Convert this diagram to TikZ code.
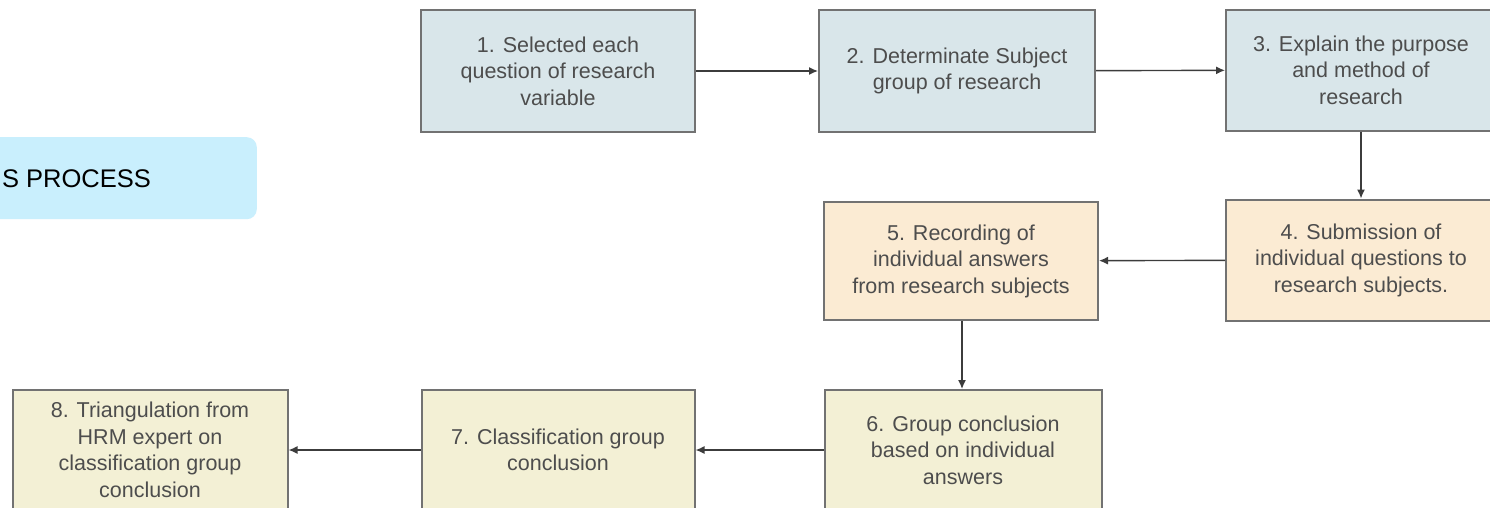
\documentclass[tikz,border=0pt]{standalone}
\usepackage{fontspec}
\setmainfont{Liberation Sans}
\usetikzlibrary{arrows.meta}
\definecolor{bluefill}{HTML}{D9E6EA}
\definecolor{orangefill}{HTML}{FBEBD3}
\definecolor{yellowfill}{HTML}{F3F0D5}
\definecolor{pillfill}{HTML}{C9EFFD}
\definecolor{boxline}{HTML}{727272}
\definecolor{boxtext}{HTML}{4D4D4D}
\definecolor{arrowline}{HTML}{3C3C3C}
\tikzset{
  stepbox/.style={draw=boxline, line width=2pt, align=center, text=boxtext,
    inner sep=0pt, font=\fontsize{21.5}{26.5}\selectfont},
  bluebox/.style={stepbox, fill=bluefill},
  orangebox/.style={stepbox, fill=orangefill},
  yellowbox/.style={stepbox, fill=yellowfill},
  flow/.style={draw=arrowline, line width=1.4pt, -{Latex[length=9pt,width=8pt]}},
}
\begin{document}
\begin{tikzpicture}[x=1pt,y=-1pt]
\useasboundingbox (0,0) rectangle (1490,507);
\fill[white] (0,0) rectangle (1490,507);
\clip (0,0) rectangle (1490,507);
% pill
\node[fill=pillfill, rounded corners=10pt, minimum width=300pt, minimum height=82pt, anchor=north east, inner sep=0pt] (pill) at (257,137) {};
\node[anchor=east, inner sep=0pt, font=\fontsize{25.5}{30}\selectfont, text=black] (pilltext) at (151,179) {S PROCESS};
% boxes
\node[bluebox, minimum width=274pt, minimum height=122pt] (b1) at (558,71) {1. Selected each\\question of research\\variable};
\node[bluebox, minimum width=276pt, minimum height=122pt] (b2) at (957,71) {2. Determinate Subject\\group of research};
\node[bluebox, minimum width=270pt, minimum height=121pt] (b3) at (1361,70) {3. Explain the purpose\\and method of\\research};
\node[orangebox, minimum width=270pt, minimum height=121pt] (b4) at (1361,260) {4. Submission of\\individual questions to\\research subjects.};
\node[orangebox, minimum width=274pt, minimum height=118pt] (b5) at (961,261) {5. Recording of\\individual answers\\from research subjects};
\node[yellowbox, minimum width=277pt, minimum height=120pt] (b6) at (963,450) {6. Group conclusion\\based on individual\\answers};
\node[yellowbox, minimum width=273pt, minimum height=120pt] (b7) at (558,450) {7. Classification group\\conclusion};
\node[yellowbox, minimum width=275pt, minimum height=121pt] (b8) at (150,450) {8. Triangulation from\\HRM expert on\\classification group\\conclusion};
% connectors
\draw[flow] (b1) -- (b2);
\draw[flow] (b2) -- (b3);
\draw[flow] (b3) -- (b4);
\draw[flow] (b4) -- (b5);
\draw[flow] (b5.south -| 962,0) -- (b6.north -| 962,0);
\draw[flow] (b6) -- (b7);
\draw[flow] (b7) -- (b8);
\end{tikzpicture}
\end{document}
